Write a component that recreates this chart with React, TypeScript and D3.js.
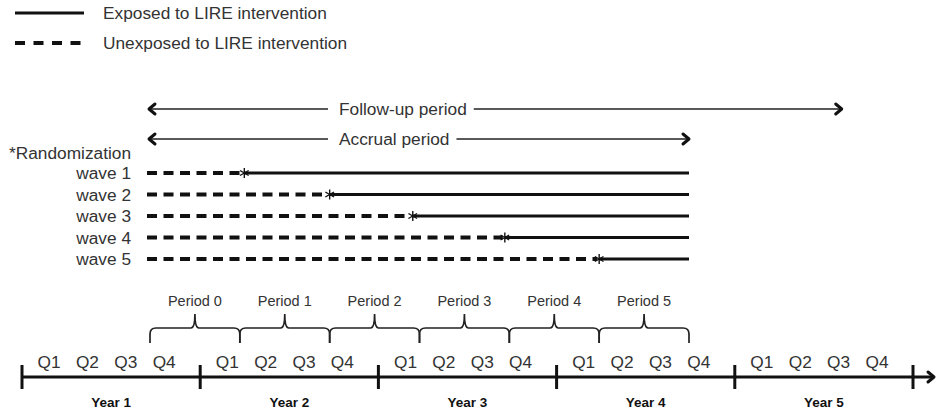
import { useEffect, useRef } from "react";
import * as d3 from "d3";

const W = 938, H = 414;
const FONT = "'Liberation Sans', Arial, Helvetica, sans-serif";
const INK = "#111", TXT = "#333";

// diagram content
const legendItems = ["Exposed to LIRE intervention", "Unexposed to LIRE intervention"];
const waves = ["wave 1", "wave 2", "wave 3", "wave 4", "wave 5"];
// randomization time of each wave, in quarters from start of Year 1
const randomizationQ = [5.1, 7.0, 8.85, 10.9, 13.0];
const periods = ["Period 0", "Period 1", "Period 2", "Period 3", "Period 4", "Period 5"];
const periodStartQ = [3, 5, 7, 9, 11, 13];
const periodLenQ = 2;
const studyStartQ = 3, accrualEndQ = 15, followUpEndQ = 18.4;
const years = ["Year 1", "Year 2", "Year 3", "Year 4", "Year 5"];
const quarters = ["Q1", "Q2", "Q3", "Q4"];

export default function App() {
  const svgRef = useRef<SVGSVGElement>(null);

  useEffect(() => {
    const svg = d3.select(svgRef.current);
    svg.selectAll("*").remove();

    const xTop = d3.scaleLinear().domain([3, 15]).range([150, 689]);
    const xAxis = d3.scaleLinear().domain([0, 5]).range([22, 913]);
    const yWave = d3.scalePoint<string>().domain(waves).range([173, 259]);

    const defs = svg.append("defs");
    const chevron = (id: string, d: string) =>
      defs.append("marker").attr("id", id).attr("viewBox", "-10 -10 20 20")
        .attr("markerWidth", 20).attr("markerHeight", 20).attr("refX", 0).attr("refY", 0)
        .attr("markerUnits", "userSpaceOnUse").attr("orient", "auto")
        .append("path").attr("d", d).attr("fill", "none").attr("stroke", INK)
        .attr("stroke-width", 3).attr("stroke-linecap", "round").attr("stroke-linejoin", "round");
    chevron("headR", "M-6,-5 L0,0 L-6,5");
    chevron("headL", "M6,-5 L0,0 L6,5");

    // legend
    const lg = svg.append("g");
    legendItems.forEach((t, i) => {
      const y = 13 + i * 30;
      lg.append("line").attr("x1", 15).attr("x2", 84).attr("y1", y).attr("y2", y)
        .attr("stroke", INK).attr("stroke-width", i === 0 ? 3 : 3.8)
        .attr("stroke-dasharray", i === 0 ? null : "10,8.5");
      lg.append("text").attr("x", 103).attr("y", y + 6).attr("fill", TXT)
        .attr("font-size", 17.3).attr("font-family", FONT).text(t);
    });

    // follow-up / accrual arrows with label breaking the line
    const arrow = (label: string, y: number, endQ: number) => {
      const txt = svg.append("text").attr("x", 339).attr("y", y + 6).attr("fill", TXT)
        .attr("font-size", 17.3).attr("font-family", FONT).text(label);
      const w = (txt.node() as SVGTextElement).getComputedTextLength();
      svg.append("line").attr("x1", xTop(studyStartQ) - 1).attr("x2", 328).attr("y1", y).attr("y2", y)
        .attr("stroke", "#222").attr("stroke-width", 1.7).attr("marker-start", "url(#headL)");
      svg.append("line").attr("x1", 339 + w + 7).attr("x2", xTop(endQ)).attr("y1", y).attr("y2", y)
        .attr("stroke", "#222").attr("stroke-width", 1.7).attr("marker-end", "url(#headR)");
    };
    arrow("Follow-up period", 109, followUpEndQ);
    arrow("Accrual period", 139, accrualEndQ);

    // waves
    svg.append("text").attr("x", 131).attr("y", 159).attr("text-anchor", "end").attr("fill", TXT)
      .attr("font-size", 17.3).attr("font-family", FONT).text("*Randomization");
    waves.forEach((wv, i) => {
      const y = yWave(wv)!;
      const xr = xTop(randomizationQ[i]);
      svg.append("text").attr("x", 131).attr("y", y + 6).attr("text-anchor", "end").attr("fill", TXT)
        .attr("font-size", 17.3).attr("font-family", FONT).text(wv);
      svg.append("line").attr("x1", xTop(studyStartQ) - 3).attr("x2", xr - 2).attr("y1", y).attr("y2", y)
        .attr("stroke", INK).attr("stroke-width", 3.8).attr("stroke-dasharray", "10,6.5");
      svg.append("line").attr("x1", xr).attr("x2", xTop(accrualEndQ)).attr("y1", y).attr("y2", y)
        .attr("stroke", INK).attr("stroke-width", 2.8);
      // randomization asterisk
      const star = svg.append("g").attr("transform", `translate(${xr},${y})`);
      [0, 60, 120].forEach(a => {
        star.append("line").attr("x1", 0).attr("y1", -5).attr("x2", 0).attr("y2", 5)
          .attr("transform", `rotate(${a})`).attr("stroke", INK).attr("stroke-width", 1.4);
      });
    });

    // period braces
    const yb = 328, ytip = 314, yend = 343;
    periods.forEach((p, i) => {
      const x0 = xTop(periodStartQ[i]), x1 = xTop(periodStartQ[i] + periodLenQ);
      const xm = (x0 + x1) / 2;
      const d = `M${x0},${yend} L${x0},${yb + 6} Q${x0},${yb} ${x0 + 6},${yb} L${xm - 4},${yb} ` +
        `Q${xm},${yb} ${xm},${ytip} Q${xm},${yb} ${xm + 4},${yb} L${x1 - 6},${yb} ` +
        `Q${x1},${yb} ${x1},${yb + 6} L${x1},${yend}`;
      svg.append("path").attr("d", d).attr("fill", "none").attr("stroke", "#222").attr("stroke-width", 1.7);
      svg.append("text").attr("x", xm).attr("y", 306).attr("text-anchor", "middle").attr("fill", TXT)
        .attr("font-size", 14.5).attr("font-family", FONT).text(p);
    });

    // time axis
    const ya = 377;
    svg.append("line").attr("x1", xAxis(0)).attr("x2", 934).attr("y1", ya).attr("y2", ya)
      .attr("stroke", INK).attr("stroke-width", 3).attr("marker-end", "url(#headR)");
    d3.range(0, 6).forEach(k => {
      svg.append("line").attr("x1", xAxis(k)).attr("x2", xAxis(k)).attr("y1", 365).attr("y2", 389)
        .attr("stroke", INK).attr("stroke-width", 3);
    });
    years.forEach((yr, k) => {
      svg.append("text").attr("x", (xAxis(k) + xAxis(k + 1)) / 2).attr("y", 407).attr("text-anchor", "middle")
        .attr("fill", INK).attr("font-size", 13.5).attr("font-weight", "bold").attr("font-family", FONT).text(yr);
      const xq = d3.scalePoint<string>().domain(quarters).range([xAxis(k + 0.152), xAxis(k + 0.798)]);
      quarters.forEach(q => {
        svg.append("text").attr("x", xq(q)!).attr("y", 368).attr("text-anchor", "middle").attr("fill", TXT)
          .attr("font-size", 17.3).attr("font-family", FONT).text(q);
      });
    });
  }, []);

  return (
    <div style={{ position: "absolute", left: 0, top: 0, width: W, height: H, background: "#fff" }}>
      <svg ref={svgRef} width={W} height={H} style={{ display: "block" }} />
    </div>
  );
}
